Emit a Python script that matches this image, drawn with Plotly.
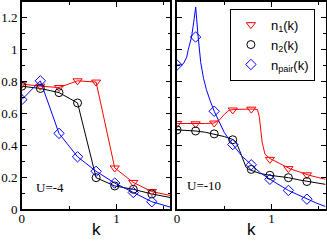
import plotly.graph_objects as go

# ---- data ----
k_pts = [0.0, 0.196, 0.393, 0.589, 0.785, 0.982, 1.178, 1.374]

# U = -4 (left panel)
n1_U4 = [0.785, 0.771, 0.763, 0.805, 0.797, 0.258, 0.167, 0.110]
n2_U4 = [0.771, 0.757, 0.731, 0.666, 0.197, 0.145, 0.124, 0.095]
np_U4 = [0.687, 0.805, 0.475, 0.328, 0.237, 0.163, 0.104, 0.046]
k_line_U4 = [0.0, 0.196, 0.393, 0.589, 0.785, 0.982, 1.178, 1.374, 1.571]
n1_line_U4 = [0.785, 0.771, 0.763, 0.805, 0.797, 0.258, 0.167, 0.110, 0.085]
n2_line_U4 = [0.771, 0.757, 0.731, 0.666, 0.197, 0.145, 0.124, 0.095, 0.072]
np_line_U4 = [0.687, 0.805, 0.475, 0.328, 0.237, 0.163, 0.104, 0.046, 0.012]

# U = -10 (right panel)
n1_U10 = [0.537, 0.535, 0.540, 0.622, 0.627, 0.312, 0.254, 0.215]
n2_U10 = [0.497, 0.490, 0.472, 0.435, 0.249, 0.212, 0.197, 0.173]
np_U10 = [0.904, 1.080, 0.614, 0.405, 0.278, 0.187, 0.117, 0.062]

k_n1_line_U10 = [0, 0.1, 0.2, 0.3, 0.39, 0.45, 0.5, 0.55, 0.6, 0.7, 0.8, 0.85, 0.87, 0.9,
                 0.93, 0.98, 1.1, 1.2, 1.3, 1.4, 1.5, 1.571]
n1_line_U10 = [0.537, 0.536, 0.535, 0.537, 0.540, 0.56, 0.595, 0.62, 0.625, 0.627, 0.628, 0.625,
               0.58, 0.42, 0.345, 0.318, 0.28, 0.252, 0.232, 0.212, 0.197, 0.187]
k_n2_line_U10 = [0, 0.1, 0.2, 0.3, 0.39, 0.5, 0.59, 0.625, 0.66, 0.7, 0.73, 0.76, 0.8, 0.88,
                 0.982, 1.1, 1.178, 1.3, 1.374, 1.5, 1.571]
n2_line_U10 = [0.497, 0.494, 0.490, 0.482, 0.472, 0.455, 0.437, 0.42, 0.37, 0.3, 0.262, 0.248,
               0.238, 0.223, 0.212, 0.203, 0.197, 0.182, 0.173, 0.162, 0.155]
k_np_line_U10 = [0, 0.05, 0.066, 0.1, 0.119, 0.153, 0.175, 0.197, 0.22, 0.25, 0.28, 0.31, 0.35,
                 0.393, 0.5, 0.589, 0.69, 0.785, 0.88, 0.982, 1.09, 1.178, 1.27, 1.374, 1.48, 1.571]
np_line_U10 = [0.904, 0.906, 0.912, 0.95, 1.002, 1.08, 1.17, 1.268, 1.1, 0.92, 0.82, 0.75, 0.68,
               0.614, 0.48, 0.405, 0.33, 0.278, 0.228, 0.187, 0.15, 0.117, 0.092, 0.062, 0.036, 0.016]

names = ["n<sub>1</sub>(k)", "n<sub>2</sub>(k)", "n<sub>pair</sub>(k)"]
colors = ["#ff0000", "#000000", "#0000ff"]
symbols = ["triangle-down-open", "circle-open", "diamond-open"]
x_ticks = [0, 1]
y_ticks = [0, 0.2, 0.4, 0.6, 0.8, 1, 1.2]
y_tick_text = ["0", "0.2", "0.4", "0.6", "0.8", "1", "1.2"]

fig = go.Figure()

left_lines = [(k_line_U4, n1_line_U4), (k_line_U4, n2_line_U4), (k_line_U4, np_line_U4)]
left_pts = [n1_U4, n2_U4, np_U4]
right_lines = [(k_n1_line_U10, n1_line_U10), (k_n2_line_U10, n2_line_U10), (k_np_line_U10, np_line_U10)]
right_pts = [n1_U10, n2_U10, np_U10]

for i in range(3):
    fig.add_trace(go.Scatter(x=left_lines[i][0], y=left_lines[i][1], mode="lines",
                             line=dict(color=colors[i], width=1), showlegend=False,
                             xaxis="x", yaxis="y"))
    fig.add_trace(go.Scatter(x=right_lines[i][0], y=right_lines[i][1], mode="lines",
                             line=dict(color=colors[i], width=1), showlegend=False,
                             xaxis="x2", yaxis="y2"))
for i in range(3):
    fig.add_trace(go.Scatter(x=k_pts, y=left_pts[i], mode="markers",
                             marker=dict(symbol=symbols[i], size=8, color=colors[i],
                                         line=dict(color=colors[i], width=1)),
                             showlegend=False, xaxis="x", yaxis="y"))
    fig.add_trace(go.Scatter(x=k_pts, y=right_pts[i], mode="markers", name=names[i],
                             marker=dict(symbol=symbols[i], size=8, color=colors[i],
                                         line=dict(color=colors[i], width=1)),
                             showlegend=True, xaxis="x2", yaxis="y2"))

W, H = 327, 245
tickfont = dict(family="Liberation Serif", size=13, color="black")
titlefont = dict(family="Liberation Sans", size=17, color="black")

def xaxis(domain, anchor):
    return dict(domain=domain, anchor=anchor, range=[0, 1.5708], tickvals=x_ticks,
                ticktext=["0", "1"], ticks="inside", ticklen=5, tickwidth=1, tickcolor="black",
                minor=dict(dtick=0.5, tick0=0, ticks="inside", ticklen=3, tickcolor="black"),
                showline=True, linecolor="black", linewidth=1.5, mirror="ticks",
                showgrid=False, zeroline=False, tickfont=tickfont, ticklabelstandoff=-3)

def yaxis(domain, anchor, labels):
    return dict(domain=domain, anchor=anchor, range=[0, 1.3], tickvals=y_ticks,
                ticktext=y_tick_text, showticklabels=labels,
                ticks="inside", ticklen=5, tickwidth=1, tickcolor="black",
                minor=dict(dtick=0.1, tick0=0, ticks="inside", ticklen=3, tickcolor="black"),
                showline=True, linecolor="black", linewidth=1.5, mirror="ticks",
                showgrid=False, zeroline=False, tickfont=tickfont)

ydom = [1 - 216 / H, 1 - 1 / H]
fig.update_layout(
    width=W, height=H, margin=dict(l=0, r=0, t=0, b=0),
    paper_bgcolor="white", plot_bgcolor="white",
    xaxis=xaxis([19 / W, 169 / W], "y"),
    yaxis=yaxis(ydom, "x", True),
    xaxis2=xaxis([175.7 / W, 325.5 / W], "y2"),
    yaxis2=yaxis(ydom, "x2", False),
    legend=dict(x=229 / W, y=1 - 8 / H, xanchor="left", yanchor="top",
                bordercolor="black", borderwidth=1, bgcolor="white",
                font=dict(family="Liberation Sans", size=13, color="black"),
                itemwidth=30, tracegroupgap=0),
    annotations=[
        dict(text="U=-4", x=0.125, y=0.133, xref="x", yref="y", xanchor="left",
             yanchor="middle", showarrow=False,
             font=dict(family="Liberation Serif", size=13, color="black")),
        dict(text="U=-10", x=0.08, y=0.151, xref="x2", yref="y2", xanchor="left",
             yanchor="middle", showarrow=False,
             font=dict(family="Liberation Serif", size=13, color="black")),
        dict(text="k", x=0.5, y=1 - 237 / H, xref="x domain", yref="paper",
             xanchor="center", yanchor="middle", showarrow=False, font=titlefont),
        dict(text="k", x=0.5, y=1 - 237 / H, xref="x2 domain", yref="paper",
             xanchor="center", yanchor="middle", showarrow=False, font=titlefont),
    ],
)

fig.write_html(
    "out.html",
    config={"displayModeBar": False},
    post_script="document.body.style.margin='0px';document.body.style.padding='0px';"
                "document.documentElement.style.overflow='hidden';",
)
